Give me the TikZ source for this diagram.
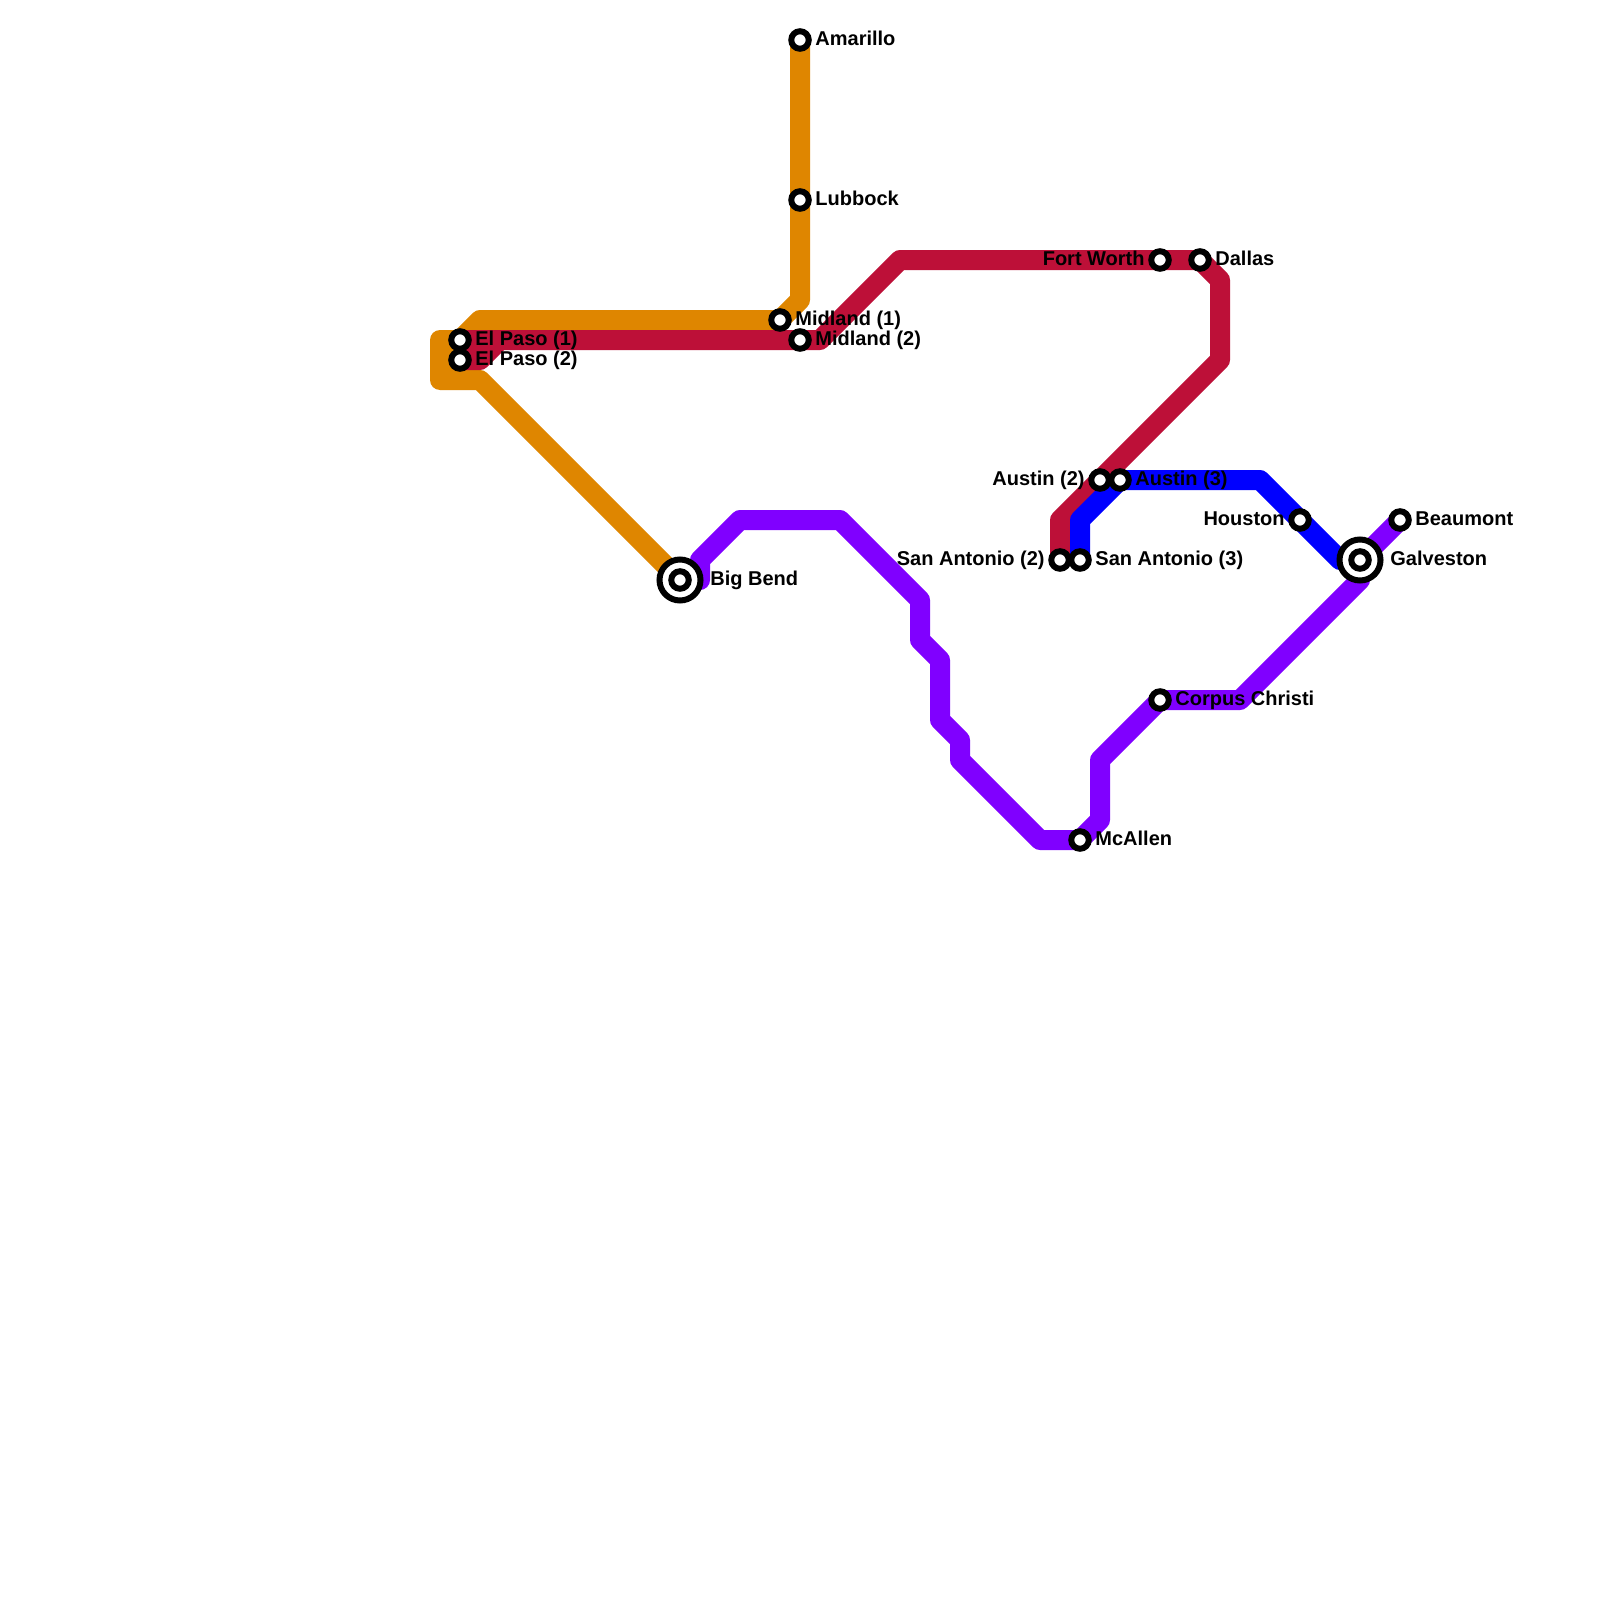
\documentclass[tikz,border=0pt]{standalone}
\usepackage{fontspec}
\setmainfont{Liberation Sans}
\usetikzlibrary{backgrounds}
\definecolor{lineorange}{HTML}{DF8600}
\definecolor{linered}{HTML}{BD1038}
\definecolor{linepurple}{HTML}{8000FF}
\definecolor{lineblue}{HTML}{0000FF}
\tikzset{
  x=0.5pt,y=-0.5pt,
  route/.style={line width=10pt,line join=round,line cap=round},
  stop/.style={circle,draw=black,fill=white,line width=3pt,minimum size=8.75pt,inner sep=0pt},
  bigstop/.style={circle,draw=black,fill=white,line width=3pt,minimum size=20.5pt,inner sep=0pt},
  lblr/.style={anchor=base west,inner sep=0pt,font=\bfseries\fontsize{10}{11}\selectfont,text=black},
  lbll/.style={anchor=base east,inner sep=0pt,font=\bfseries\fontsize{10}{11}\selectfont,text=black},
}
\begin{document}
\begin{tikzpicture}
\useasboundingbox (0,0) rectangle (1600,1600);
% stations
\node[stop] (Amarillo) at (800,40) {};
\node[stop] (Lubbock) at (800,200) {};
\node[stop] (Midland1) at (780,320) {};
\node[stop] (Midland2) at (800,340) {};
\node[stop] (ElPaso1) at (460,340) {};
\node[stop] (ElPaso2) at (460,360) {};
\node[bigstop] (BigBend) at (680,580) {};
\node[stop] (BigBendIn) at (BigBend.center) {};
\node[stop] (FortWorth) at (1160,260) {};
\node[stop] (Dallas) at (1200,260) {};
\node[stop] (Austin2) at (1100,480) {};
\node[stop] (Austin3) at (1120,480) {};
\node[stop] (SanAntonio2) at (1060,560) {};
\node[stop] (SanAntonio3) at (1080,560) {};
\node[stop] (Houston) at (1300,520) {};
\node[bigstop] (Galveston) at (1360,560) {};
\node[stop] (GalvestonIn) at (Galveston.center) {};
\node[stop] (Beaumont) at (1400,520) {};
\node[stop] (Corpus) at (1160,700) {};
\node[stop] (McAllen) at (1080,840) {};
% routes
\begin{scope}[on background layer]
\fill[white] (0,0) rectangle (1600,1600);
\draw[route,lineorange] (Amarillo.center) -- (Lubbock.center) -- (800,300) -- (Midland1.center) -- (480,320) -- (ElPaso1.center) -- (440,340) -- (440,380) -- (480,380) -- (BigBend.center);
\draw[route,lineorange] (440,360) -- (ElPaso2.center);
\draw[route,linered,line cap=butt] (ElPaso1.center) -- (Midland2.center) -- (820,340) -- (900,260) -- (FortWorth.center) -- (Dallas.center) -- (1220,280) -- (1220,360) -- (Austin2.center) -- (1060,520) -- (SanAntonio2.center);
\draw[route,linered,line cap=butt] (ElPaso2.center) -- (480,360) -- (500,340);
\draw[route,lineblue] (SanAntonio3.center) -- (1080,520) -- (Austin3.center) -- (1260,480) -- (Houston.center) -- (1340,560) -- (Galveston.center);
\draw[route,linepurple] (BigBend.center) -- (700,580) -- (700,560) -- (740,520) -- (840,520) -- (920,600) -- (920,640) -- (940,660) -- (940,720) -- (960,740) -- (960,760) -- (1040,840) -- (McAllen.center) -- (1100,820) -- (1100,760) -- (Corpus.center) -- (1240,700) -- (1360,580) -- (Galveston.center) -- (Beaumont.center);
\end{scope}
% labels
\node[lblr] (tAmarillo) at (815,45.5) {Amarillo};
\node[lblr] (tLubbock) at (815,205) {Lubbock};
\node[lblr] (tMidland1) at (795,325) {Midland (1)};
\node[lblr] (tMidland2) at (815,345) {Midland (2)};
\node[lblr] (tElPaso1) at (475,345) {El Paso (1)};
\node[lblr] (tElPaso2) at (475,365) {El Paso (2)};
\node[lblr] (tBigBend) at (710,585) {Big Bend};
\node[lbll] (tFortWorth) at (1145,265) {Fort Worth};
\node[lblr] (tDallas) at (1215,265) {Dallas};
\node[lbll] (tAustin2) at (1085,485) {Austin (2)};
\node[lblr] (tAustin3) at (1135,485) {Austin (3)};
\node[lbll] (tSanAntonio2) at (1045,565) {San Antonio (2)};
\node[lblr] (tSanAntonio3) at (1095,565) {San Antonio (3)};
\node[lbll] (tHouston) at (1285,525) {Houston};
\node[lblr] (tGalveston) at (1390,565) {Galveston};
\node[lblr] (tBeaumont) at (1415,525) {Beaumont};
\node[lblr] (tCorpus) at (1175,705) {Corpus Christi};
\node[lblr] (tMcAllen) at (1095,845) {McAllen};
\end{tikzpicture}
\end{document}
